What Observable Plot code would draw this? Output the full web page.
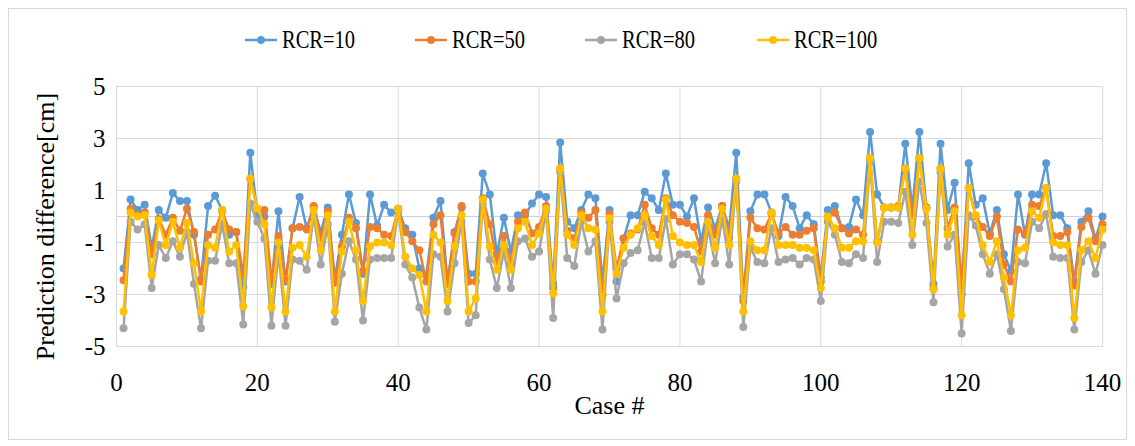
<!DOCTYPE html>
<html><head><meta charset="utf-8">
<script src="https://cdn.jsdelivr.net/npm/d3@7"></script>
<script src="https://cdn.jsdelivr.net/npm/@observablehq/plot@0.6"></script>
<style>
body{margin:0;background:#fff;}
#wrap{position:relative;width:1135px;height:446px;font-family:"Liberation Serif","Times New Roman",serif;overflow:hidden;}
#border{position:absolute;left:8px;top:8px;width:1119px;height:432px;border:1px solid #d9d9d9;box-sizing:border-box;pointer-events:none;}
#legend{position:absolute;left:0;top:0;width:1135px;height:70px;}
.item{position:absolute;top:24px;height:32px;display:flex;align-items:center;font-size:25px;color:#000;white-space:nowrap;}
.item svg{margin-right:5px;}
#chart svg{display:block;}
#chart svg, #chart svg text, #chart svg g{font-family:"Liberation Serif","Times New Roman",serif !important;}
</style></head>
<body>
<div id="wrap"><div id="border"></div><div id="chart"></div><div id="legend"></div></div>
<script>
const seriesNames = ["RCR=10", "RCR=50", "RCR=80", "RCR=100"];
const seriesColors = ["#5b9bd5", "#ed7d31", "#a5a5a5", "#ffc000"];
const xTicks = [0, 20, 40, 60, 80, 100, 120, 140];
const yTicks = [-5, -3, -1, 1, 3, 5];
const legendLeft = [245, 415, 585, 757];

const rcr10 = [-2.0,0.65,0.25,0.45,-1.2,0.25,-0.05,0.9,0.6,0.6,-0.7,-2.4,0.4,0.8,0.25,-0.7,-0.6,-2.7,2.45,0.05,
0.0,-2.6,0.2,-2.5,-0.45,0.75,-0.45,0.35,-0.6,0.35,-2.4,-0.7,0.85,-0.25,-2.2,0.85,-0.35,0.45,0.15,0.3,
-0.45,-0.7,-2.0,-2.25,-0.05,0.6,-2.5,-0.6,0.35,-2.2,-2.2,1.65,0.85,-1.45,-0.05,-1.35,0.05,0.05,0.5,0.85,
0.75,-2.6,2.85,-0.2,-0.45,0.25,0.85,0.7,-2.5,0.25,-2.5,-0.85,0.05,0.05,0.95,0.7,0.25,1.65,0.45,0.45,
0.0,0.7,-0.95,0.35,-0.45,0.4,-0.45,2.45,-3.1,0.2,0.85,0.85,0.15,-0.75,0.75,0.4,-0.45,0.05,-0.3,-2.35,
0.25,0.4,-0.45,-0.4,0.65,0.05,3.25,0.85,0.35,0.35,0.35,2.8,0.3,3.25,0.35,-2.6,2.8,0.25,1.3,-3.0,
2.05,0.45,0.7,-0.65,0.25,-1.45,-2.1,0.85,-0.7,0.85,0.85,2.05,0.05,0.05,-0.45,-2.5,-0.2,0.2,-0.85,0.0];
const rcr50 = [-2.45,0.3,0.05,0.15,-1.45,-0.1,-0.7,-0.05,-0.55,0.3,-0.6,-2.5,-0.7,-0.5,0.2,-0.5,-0.6,-2.25,1.45,0.3,
0.25,-2.4,-0.75,-2.45,-0.45,-0.4,-0.5,0.4,-0.85,0.2,-2.55,-1.15,-0.05,-0.45,-2.1,-0.4,-0.45,-0.7,-0.75,0.3,
-0.6,-0.95,-1.3,-2.5,-0.3,0.05,-2.6,-0.65,0.4,-2.5,-2.5,0.7,-0.3,-1.75,-0.75,-1.8,-0.2,0.15,-0.65,-0.4,
0.4,-2.75,1.85,-0.55,-0.85,0.15,-0.05,0.25,-3.0,0.1,-2.0,-0.85,-0.65,-0.5,0.45,-0.45,-0.7,0.7,0.05,-0.2,
-0.25,-0.4,-1.35,0.05,-0.7,0.4,-0.8,1.45,-3.25,-0.05,-0.45,-0.5,0.1,-0.65,-0.4,-0.7,-0.7,-0.55,-0.45,-2.5,
0.0,0.15,-0.45,-0.65,-0.5,-0.7,2.25,-0.95,0.35,0.35,0.4,1.85,0.05,2.25,0.35,-2.75,1.85,-0.45,0.35,-2.5,
1.1,0.0,-0.4,-0.75,0.0,-1.85,-2.5,-0.5,-0.65,0.45,0.4,1.1,-0.75,-0.75,-0.6,-2.65,-0.4,-0.05,-0.95,-0.3];
const rcr80 = [-4.3,-0.2,-0.5,-0.3,-2.75,-1.1,-1.6,-0.95,-1.55,-0.6,-2.6,-4.3,-1.7,-1.7,-0.3,-1.8,-1.8,-4.15,0.5,-0.2,
-0.85,-4.2,-1.4,-4.2,-1.65,-1.7,-2.05,0.05,-1.85,-0.3,-4.05,-2.2,-0.95,-1.65,-4.0,-1.65,-1.6,-1.6,-1.6,0.2,
-1.85,-2.35,-3.5,-4.35,-1.45,-1.55,-3.65,-1.8,-0.2,-4.1,-3.8,0.5,-1.65,-2.75,-1.35,-2.75,-0.95,-0.85,-1.55,-1.35,
0.2,-3.9,1.7,-1.6,-1.9,-0.2,-1.35,-0.95,-4.35,-0.2,-3.15,-1.8,-1.4,-1.3,-0.25,-1.6,-1.6,-0.1,-1.85,-1.45,
-1.45,-1.65,-2.5,-0.45,-1.8,-0.05,-1.85,1.35,-4.25,-1.2,-1.75,-1.8,-0.45,-1.75,-1.65,-1.6,-1.85,-1.6,-1.65,-3.25,
-0.2,-0.7,-1.75,-1.8,-1.45,-1.6,2.1,-1.75,-0.2,-0.2,-0.25,0.95,-1.1,1.35,-0.25,-3.3,1.7,-1.15,-0.7,-4.5,
0.05,-0.35,-1.45,-2.2,-1.45,-2.8,-4.4,-1.75,-1.8,-0.2,-0.45,0.1,-1.55,-1.6,-1.6,-4.35,-1.75,-1.3,-2.2,-1.1];
const rcr100 = [-3.65,0.15,0.0,0.05,-2.25,-0.15,-1.1,-0.2,-1.2,-0.25,-1.8,-3.65,-1.1,-1.2,0.25,-1.35,-1.1,-3.45,1.45,0.3,
-0.3,-3.5,-1.0,-3.65,-1.2,-1.1,-1.55,0.25,-1.3,0.05,-3.65,-1.35,-0.2,-1.3,-3.25,-1.15,-1.0,-1.0,-1.1,0.3,
-1.55,-2.0,-2.25,-3.65,-0.7,-1.0,-3.25,-1.15,0.05,-3.65,-3.15,0.65,-1.15,-2.05,-1.1,-2.05,-0.45,-0.2,-1.1,-0.65,
0.3,-2.95,1.85,-0.7,-1.1,0.05,-0.45,-0.5,-3.65,-0.05,-2.2,-1.2,-0.7,-0.45,0.05,-0.75,-1.1,0.65,-0.75,-1.0,
-1.1,-1.1,-1.75,-0.2,-1.2,0.3,-1.1,1.45,-3.65,-0.95,-1.3,-1.3,0.15,-1.1,-1.1,-1.1,-1.2,-1.2,-1.3,-2.75,
0.0,-0.45,-1.2,-1.2,-0.95,-0.95,2.25,-1.0,0.35,0.35,0.35,1.85,-0.7,2.25,0.3,-2.8,1.85,-0.7,0.2,-3.8,
1.1,0.05,-1.1,-1.75,-0.95,-2.35,-3.8,-1.3,-1.2,0.2,-0.05,1.1,-1.0,-1.1,-1.1,-3.9,-1.3,-0.95,-1.6,-0.5];

const seriesValues = [rcr10, rcr50, rcr80, rcr100];
const cases = d3.range(1, 141);
const serif = "Liberation Serif";

// legend
const legend = document.getElementById("legend");
seriesNames.forEach((name, i) => {
  const div = document.createElement("div");
  div.className = "item";
  div.style.left = legendLeft[i] + "px";
  div.innerHTML = `<svg width="32" height="12"><line x1="0" y1="6" x2="32" y2="6" stroke="${seriesColors[i]}" stroke-width="2.5"/><circle cx="16" cy="6" r="4" fill="${seriesColors[i]}"/></svg><span style="display:inline-block;transform:scaleX(0.82);transform-origin:left center;">${name}</span>`;
  legend.appendChild(div);
});

const marks = [
  Plot.gridX(xTicks, {stroke: "#d9d9d9", strokeOpacity: 1, strokeWidth: 1}),
  Plot.gridY(yTicks, {stroke: "#d9d9d9", strokeOpacity: 1, strokeWidth: 1}),
  Plot.ruleY([0], {stroke: "#d0d0d0", strokeWidth: 1}),
  Plot.frame({stroke: "#d9d9d9"}),
  Plot.axisX(xTicks, {tickSize: 0, tickPadding: 27, fontSize: 25, fontFamily: serif, tickFormat: d => String(d), label: null}),
  Plot.axisY(yTicks, {tickSize: 0, tickPadding: 11, fontSize: 25, fontFamily: serif, tickFormat: d => String(d), label: null}),
  Plot.text(["Case #"], {text: d => d, frameAnchor: "bottom", dy: 67, fontSize: 26, fontFamily: serif}),
  Plot.text(["Prediction difference[cm]"], {text: d => d, frameAnchor: "left", textAnchor: "middle", dx: -71, dy: 10, rotate: -90, fontSize: 26, fontFamily: serif})
];
seriesNames.forEach((name, i) => {
  const rows = cases.map((c, j) => ({case: c, value: seriesValues[i][j], series: name}));
  marks.push(Plot.line(rows, {x: "case", y: "value", stroke: seriesColors[i], strokeWidth: 2.5}));
  marks.push(Plot.dot(rows, {x: "case", y: "value", fill: seriesColors[i], r: 4}));
});

const chart = Plot.plot({
  width: 1135,
  height: 446,
  marginLeft: 116,
  marginRight: 33,
  marginTop: 86,
  marginBottom: 100,
  style: {fontFamily: serif, fontSize: "25px", background: "transparent", color: "#000"},
  x: {domain: [0, 140], label: null},
  y: {domain: [-5, 5], label: null},
  marks
});
document.getElementById("chart").appendChild(chart);
</script>
</body></html>
